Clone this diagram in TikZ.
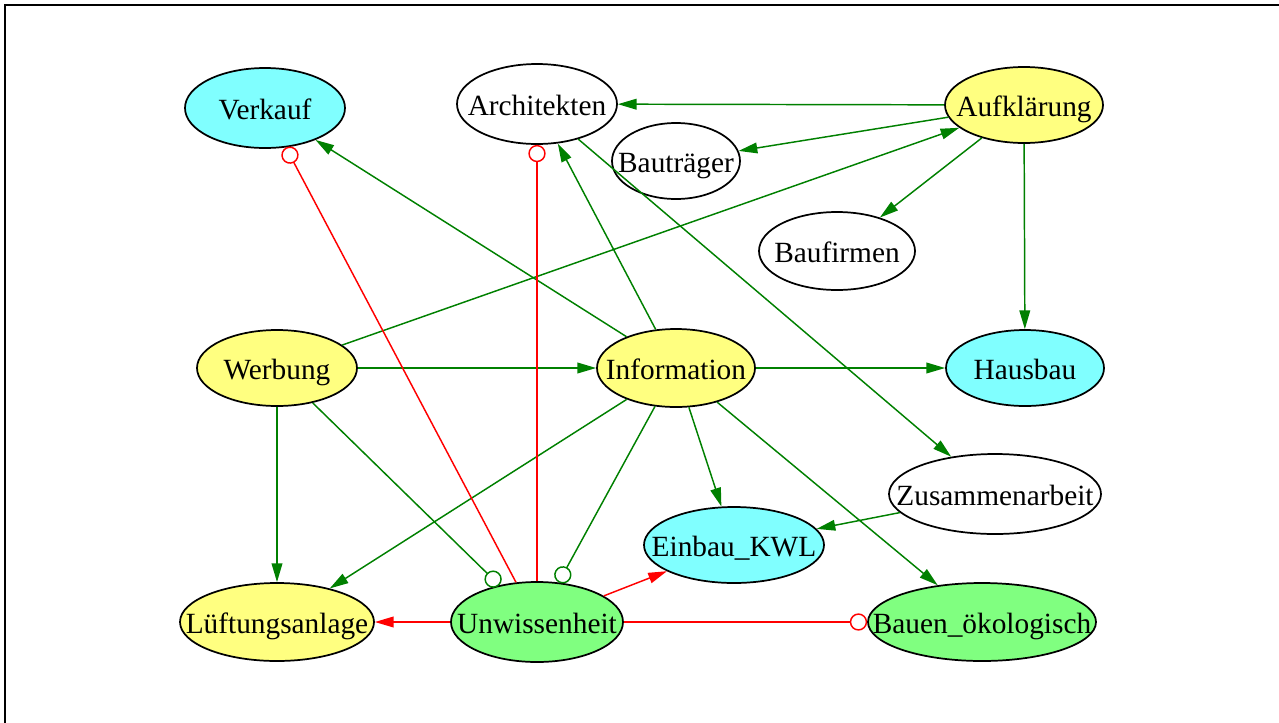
\documentclass[tikz,border=0pt]{standalone}
\usepackage{fontspec}
\setmainfont{Liberation Serif}
\usetikzlibrary{shapes.geometric,arrows.meta}
\definecolor{cy}{HTML}{80FFFF}
\definecolor{ye}{HTML}{FFFF80}
\definecolor{gr}{HTML}{80FF80}
\definecolor{eg}{HTML}{008000}
\definecolor{er}{HTML}{FF0000}
\tikzset{
  nd/.style={ellipse, draw=black, line width=1.3pt, inner sep=0pt,
    font=\fontsize{22}{26}\selectfont, text height=19pt, text depth=2pt},
  ge/.style={draw=eg, line width=1.1pt, -{Triangle[length=14pt,width=8pt]}},
  re/.style={draw=er, line width=1.1pt, -{Triangle[length=14pt,width=8pt]}},
  gc/.style={draw=eg, line width=1.1pt, -{Circle[open,length=13pt,width=13pt]}},
  rc/.style={draw=er, line width=1.1pt, -{Circle[open,length=13pt,width=13pt]}},
}
\newcommand{\zt}[1]{\makebox[0pt]{#1}}
\begin{document}
\begin{tikzpicture}[x=0.75pt,y=-0.75pt]
\useasboundingbox (0,0) rectangle (1279,722);
\draw[line width=1.5pt] (5,723) -- (5,4.5) -- (1280,4.5);

\node[nd, fill=cy, minimum width=120pt, minimum height=60pt] (verk) at (265,108) {\zt{Verkauf}};
\node[nd, fill=white, minimum width=120pt, minimum height=60pt] (arch) at (537,104) {\zt{Architekten}};
\node[nd, fill=ye, minimum width=118.5pt, minimum height=57pt] (aufk) at (1024,105) {\zt{Aufklärung}};
\node[nd, fill=white, minimum width=96pt, minimum height=57pt] (bautr) at (676,161) {\zt{Bauträger}};
\node[nd, fill=white, minimum width=117pt, minimum height=58.5pt] (baufi) at (837,251) {\zt{Baufirmen}};
\node[nd, fill=ye, minimum width=120pt, minimum height=57pt] (werb) at (277,368) {\zt{Werbung}};
\node[nd, fill=ye, minimum width=118.5pt, minimum height=58.5pt] (info) at (676,368) {\zt{Information}};
\node[nd, fill=cy, minimum width=118.5pt, minimum height=57pt] (haus) at (1025,368) {\zt{Hausbau}};
\node[nd, fill=white, minimum width=159pt, minimum height=60pt] (zus) at (995,494) {\zt{Zusammenarbeit}};
\node[nd, fill=cy, minimum width=135pt, minimum height=57pt] (kwl) at (734,545) {\zt{Einbau\_KWL}};
\node[nd, fill=ye, minimum width=145.5pt, minimum height=58.5pt] (lueft) at (277,622) {\zt{Lüftungsanlage}};
\node[nd, fill=gr, minimum width=129pt, minimum height=60pt] (unw) at (537,622) {\zt{Unwissenheit}};
\node[nd, fill=gr, minimum width=171pt, minimum height=58.5pt] (oeko) at (982,622) {\zt{Bauen\_ökologisch}};

% green edges
\draw[ge] (aufk) -- (arch);
\draw[ge] (aufk) -- (bautr);
\draw[ge] (aufk) -- (baufi);
\draw[ge] (aufk) -- (haus);
\draw[ge] (werb) -- (aufk);
\draw[ge] (werb) -- (info);
\draw[ge] (werb) -- (lueft);
\draw[gc] (werb) -- (unw);
\draw[ge] (info) -- (verk);
\draw[ge] (info) -- (arch);
\draw[ge] (info) -- (haus);
\draw[ge] (info) -- (lueft);
\draw[gc] (info) -- (unw);
\draw[ge] (info) -- (kwl);
\draw[ge] (info) -- (oeko);
\draw[ge] (arch) -- (zus);
\draw[ge] (zus) -- (kwl);
% red edges
\draw[rc] (unw) -- (verk);
\draw[rc] (unw) -- (arch);
\draw[re] (unw) -- (lueft);
\draw[re] (unw) -- (kwl);
\draw[rc] (unw) -- (oeko);
\end{tikzpicture}
\end{document}
